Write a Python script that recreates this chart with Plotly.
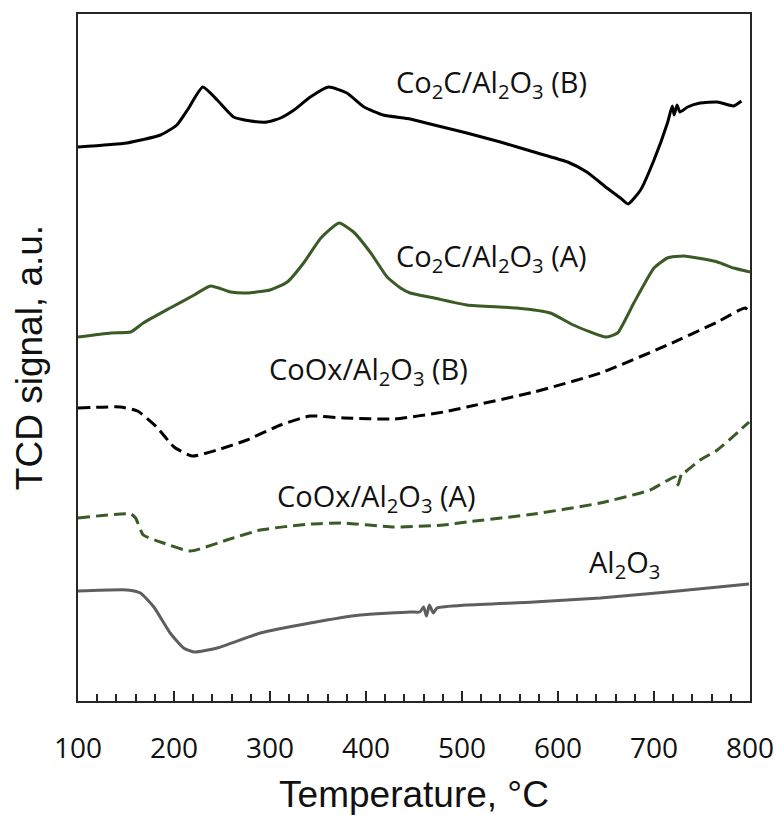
import plotly.graph_objects as go

# Temperature (°C) and TCD signal (a.u., arbitrary offset units)
t_co2c_b = [100, 151, 186, 203, 214, 230, 245, 262, 280, 297, 311, 325, 342, 361, 380, 398, 418, 446,
            471, 505, 540, 575, 610, 630, 651, 665, 673, 686, 700, 714, 719, 721, 724, 727, 735, 748,
            766, 783, 791]
s_co2c_b = [55.4, 55.8, 56.6, 57.6, 59.1, 61.4, 60.1, 58.4, 58.0, 57.9, 58.3, 59.1, 60.4, 61.4, 60.8,
            59.4, 58.6, 58.2, 57.6, 56.8, 55.9, 54.9, 53.9, 52.9, 51.3, 50.3, 49.7, 51.1, 54.1, 57.8,
            59.5, 58.6, 59.6, 58.9, 59.4, 59.8, 59.9, 59.5, 60.0]

t_co2c_a = [100, 134, 155, 168, 196, 221, 238, 259, 276, 300, 318, 335, 353, 372, 387, 405, 422, 436,
            446, 471, 505, 557, 592, 616, 650, 662, 679, 700, 714, 731, 766, 783, 800]
s_co2c_a = [36.4, 36.8, 36.9, 37.8, 39.3, 40.6, 41.5, 40.9, 40.8, 41.1, 41.9, 43.8, 46.3, 47.8, 46.9,
            44.8, 42.4, 41.3, 40.8, 40.3, 39.6, 39.3, 38.8, 37.6, 36.4, 36.8, 39.8, 43.3, 44.3, 44.5,
            43.9, 43.3, 42.9]

t_coox_b = [100, 144, 162, 182, 200, 219, 245, 276, 311, 342, 377, 429, 481, 505, 575, 644, 714, 766,
            795, 800]
s_coox_b = [29.3, 29.4, 29.0, 27.4, 25.4, 24.5, 25.1, 26.1, 27.6, 28.5, 28.3, 28.2, 28.9, 29.4, 30.9,
            32.8, 35.6, 37.9, 39.3, 38.8]

t_coox_a = [100, 155, 160, 168, 186, 217, 255, 290, 342, 377, 429, 481, 505, 575, 644, 696, 722, 725,
            729, 731, 748, 766, 799]
s_coox_a = [18.3, 18.7, 18.3, 16.6, 15.9, 15.0, 16.1, 17.1, 17.7, 17.8, 17.4, 17.6, 17.9, 18.7, 19.8,
            21.1, 22.4, 21.6, 22.8, 22.8, 24.1, 25.1, 27.9]

t_al2o3 = [100, 151, 165, 179, 196, 210, 221, 245, 290, 342, 394, 446, 456, 460, 463, 466, 470, 474,
           505, 575, 644, 714, 799]
s_al2o3 = [11.0, 11.1, 10.8, 9.4, 6.8, 5.3, 4.9, 5.3, 6.8, 7.8, 8.6, 8.9, 8.9, 9.4, 8.5, 9.6, 8.8, 9.3,
           9.6, 9.9, 10.3, 10.9, 11.7]

labels = ["Co<sub>2</sub>C/Al<sub>2</sub>O<sub>3</sub> (B)",
          "Co<sub>2</sub>C/Al<sub>2</sub>O<sub>3</sub> (A)",
          "CoOx/Al<sub>2</sub>O<sub>3</sub> (B)",
          "CoOx/Al<sub>2</sub>O<sub>3</sub> (A)",
          "Al<sub>2</sub>O<sub>3</sub>"]
label_t = [429, 429, 297, 305, 630]
label_s = [61.8, 44.4, 33.1, 20.4, 13.8]

x_ticks = [100, 200, 300, 400, 500, 600, 700, 800]

BLACK = "#000000"
GREEN = "#3a5a26"
GREY = "#5e5e5e"
FRAME = "#262626"

fig = go.Figure()
series = [
    (t_co2c_b, s_co2c_b, BLACK, None),
    (t_co2c_a, s_co2c_a, GREEN, None),
    (t_coox_b, s_coox_b, BLACK, "12px,6px"),
    (t_coox_a, s_coox_a, GREEN, "12px,6px"),
    (t_al2o3, s_al2o3, GREY, None),
]
for xs, ys, col, dash in series:
    line = dict(color=col, width=3, shape="spline", smoothing=0.5)
    if dash:
        line["dash"] = dash
    fig.add_trace(go.Scatter(x=xs, y=ys, mode="lines", line=line, showlegend=False,
                             hoverinfo="skip"))

for txt, tx, sy in zip(labels, label_t, label_s):
    fig.add_annotation(x=tx, y=sy, text=txt, showarrow=False, xanchor="left", yanchor="middle",
                       font=dict(family="Open Sans", size=29, color="#111111"))

fig.update_layout(
    width=777, height=815,
    margin=dict(l=78, r=27, t=14, b=114),
    plot_bgcolor="white", paper_bgcolor="white",
    xaxis=dict(
        range=[100, 800], tickvals=x_ticks, ticktext=[str(v) for v in x_ticks],
        ticks="inside", ticklen=10, tickwidth=1.5, tickcolor=FRAME,
        minor=dict(dtick=20, ticks="inside", ticklen=7, tickwidth=1.5, tickcolor=FRAME),
        showline=True, linecolor=FRAME, linewidth=1.5, mirror=True,
        showgrid=False, zeroline=False, automargin=False,
        ticklabelstandoff=22,
        tickfont=dict(family="Open Sans", size=28, color="#111111"),
        title=dict(text="Temperature, °C", font=dict(family="Liberation Sans", size=37, color="#111111"),
                   standoff=16),
    ),
    yaxis=dict(
        range=[0, 68.7], showticklabels=False, ticks="",
        showline=True, linecolor=FRAME, linewidth=1.5, mirror=True,
        showgrid=False, zeroline=False, automargin=False,
        title=dict(text="TCD signal, a.u.", font=dict(family="Liberation Sans", size=37, color="#111111"),
                   standoff=22),
    ),
)

fig.write_html("out.html")
